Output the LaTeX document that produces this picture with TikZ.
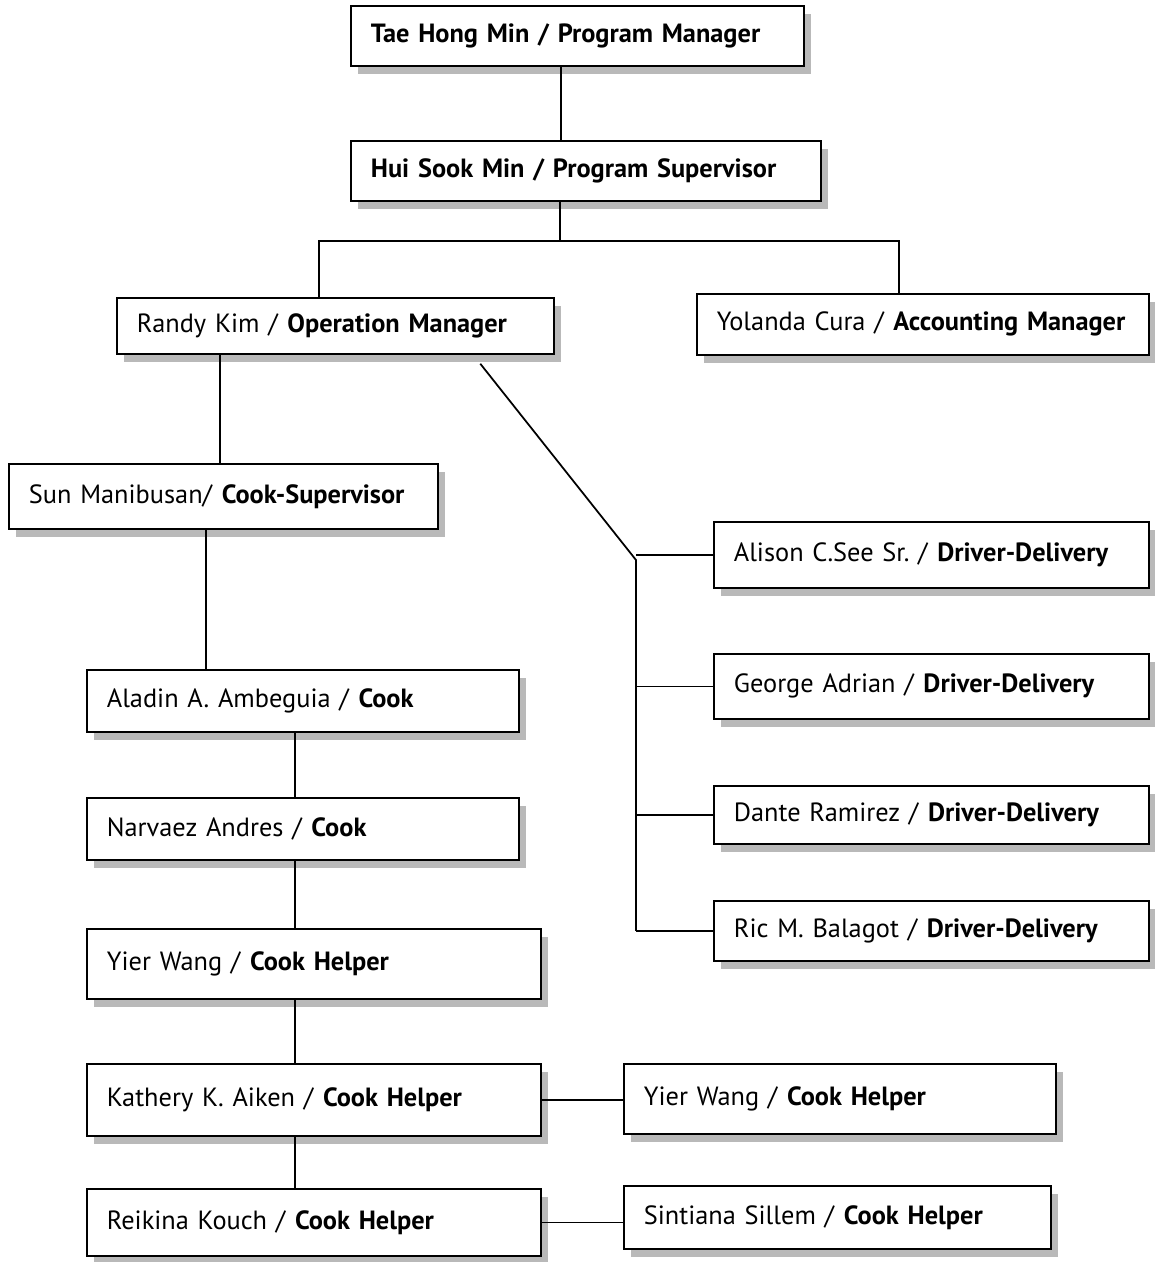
\documentclass[tikz,border=0pt]{standalone}
\usepackage{fontspec}
\setmainfont{PT Sans}
\usetikzlibrary{shadows}
\tikzset{
	post/.style={draw, fill=white, line width=1pt, anchor=north west, inner xsep=0.4cm,
		align=left, minimum height=1.25cm, text width=#1,
		font=\fontsize{15}{17}\selectfont,
		drop shadow={shadow xshift=0.15cm, shadow yshift=-0.16cm, fill=gray!55, opacity=1}},
	link/.style={line width=1pt}
}
\begin{document}
\begin{tikzpicture}[x=0.02cm, y=-0.02cm]
	\useasboundingbox (0,0) rectangle (1154,1262);
	% top of the chart
	\node[post=8.26cm, minimum height=1.2cm] (tae) at (350,5) {\textbf{Tae Hong Min / Program Manager}};
	\node[post=8.6cm, minimum height=1.2cm] (hui) at (350,140) {\textbf{Hui Sook Min / Program Supervisor}};
	\node[post=7.94cm, minimum height=1.12cm] (randy) at (116,297) {Randy Kim / \textbf{Operation Manager}};
	\node[post=8.24cm, minimum height=1.22cm] (yolanda) at (696,293) {\mbox{Yolanda Cura / \textbf{Accounting Manager}}};
	% kitchen
	\node[post=7.78cm, minimum height=1.3cm] (sun) at (8,463) {Sun Manibusan/ \textbf{Cook-Supervisor}};
	\node[post=7.84cm] (aladin) at (86,669) {Aladin A. Ambeguia / \textbf{Cook}};
	\node[post=7.84cm] (narvaez) at (86,797) {Narvaez Andres / \textbf{Cook}};
	\node[post=8.28cm, minimum height=1.4cm] (yierl) at (86,928) {Yier Wang / \textbf{Cook Helper}};
	\node[post=8.28cm, minimum height=1.44cm] (kathery) at (86,1063) {Kathery K. Aiken / \textbf{Cook Helper}};
	\node[post=8.28cm, minimum height=1.34cm] (reikina) at (86,1188) {Reikina Kouch / \textbf{Cook Helper}};
	\node[post=7.84cm, minimum height=1.4cm] (yierr) at (623,1063) {Yier Wang / \textbf{Cook Helper}};
	\node[post=7.74cm, minimum height=1.26cm] (sintiana) at (623,1185) {Sintiana Sillem / \textbf{Cook Helper}};
	% drivers
	\node[post=7.9cm, minimum height=1.32cm] (alison) at (713,521) {Alison C.See Sr.\ / \textbf{Driver-Delivery}};
	\node[post=7.9cm, minimum height=1.3cm] (george) at (713,653) {George Adrian / \textbf{Driver-Delivery}};
	\node[post=7.9cm, minimum height=1.16cm] (dante) at (713,785) {Dante Ramirez / \textbf{Driver-Delivery}};
	\node[post=7.9cm, minimum height=1.2cm] (ric) at (713,900) {Ric M. Balagot / \textbf{Driver-Delivery}};

	\coordinate (split) at (560,241);
	\coordinate (bus) at (636,560);
	\coordinate (cook) at (295,0);

	\draw[link] ([xshift=-0.33cm]tae.south) -- ([xshift=-0.33cm]tae.south |- hui.north);
	\draw[link] (hui.south -| split) -- (split);
	\draw[link] ([xshift=-0.33cm]randy.north) |- (split) -| ([xshift=-0.48cm]yolanda.north);
	\draw[link] ([xshift=-0.07cm]sun.north) -- ([xshift=-0.07cm]sun.north |- randy.south);
	\draw[link] ([xshift=-0.35cm]sun.south) -- ([xshift=-0.35cm]sun.south |- aladin.north);
	\foreach \a/\b in {aladin/narvaez, narvaez/yierl, yierl/kathery, kathery/reikina}
		\draw[link] (\a.south -| cook) -- (\b.north -| cook);
	\draw[link] (kathery.east) -- (kathery.east -| yierr.west);
	\draw[link] (reikina.east) -- (reikina.east -| sintiana.west);
	\draw[link] ([xshift=2.9cm,yshift=-0.18cm]randy.south) -- (bus) -- (bus |- ric.west);
	\foreach \d in {alison, george, dante, ric}
		\draw[link] (bus |- \d.west) -- (\d.west);
\end{tikzpicture}
\end{document}
